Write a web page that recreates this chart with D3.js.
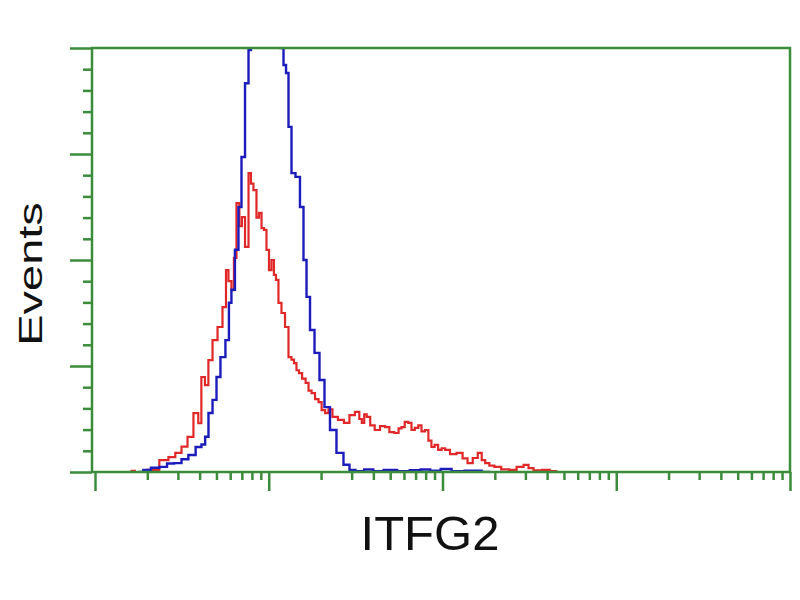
<!DOCTYPE html>
<html>
<head>
<meta charset="utf-8">
<script src="https://cdn.jsdelivr.net/npm/d3@7"></script>
<style>
  body { margin: 0; background: #fff; }
</style>
</head>
<body>
<div id="chart"></div>
<script>
// fluorescence intensity (log scale) and event counts
var blueX = [1.8, 2.0, 2.2, 2.5, 2.7, 3.0, 3.3, 3.6, 4.0, 4.2, 4.41, 4.59, 4.91, 5.1, 5.45, 5.82, 5.98, 6.22, 6.56, 6.83, 7.11, 7.5, 7.8, 8.0, 8.5, 9.5, 10.5, 11.5, 11.92, 12.41, 12.74, 13.25, 13.79, 14.73, 15.53, 16.17, 16.83, 17.74, 18.96, 20.24, 21.64, 23.42, 25.7, 28.2, 30.14, 33, 38, 42, 50, 60, 70, 80, 90, 106, 120, 150, 188];
var blueY = [0, 0.5, 1.0, 1.2, 2.0, 2.1, 3.0, 4.0, 5.9, 6.5, 8.3, 13.9, 17.0, 22.4, 27.1, 31.1, 39.9, 43.0, 52.4, 62.5, 74.3, 91.7, 99.5, 112, 125, 130, 125, 112, 100, 96, 94.1, 81.4, 70.5, 69.6, 62.5, 50.0, 41.3, 33.5, 28.1, 21.7, 15.3, 9.9, 4.5, 1.7, 0.5, 0.2, 0.6, 0.2, 0.5, 0.2, 0.4, 0.6, 0.3, 0.7, 0.2, 0.3, 0];

var redX = [1.6, 1.8, 2.2, 2.5, 2.8, 3.0, 3.3, 3.52, 3.86, 4.0, 4.19, 4.4, 4.59, 4.91, 5.24, 5.6, 5.75, 5.98, 6.22, 6.39, 6.65, 6.9, 7.11, 7.5, 7.8, 8.0, 8.33, 8.67, 8.91, 9.27, 9.51, 9.9, 10.17, 10.57, 10.86, 11.15, 11.6, 12.08, 12.74, 13.25, 13.79, 14.16, 14.73, 15.13, 16.0, 16.6, 17.3, 17.98, 18.96, 19.72, 20.6, 21.64, 22.5, 24.05, 26.0, 28.2, 30.1, 32.63, 33.8, 34.87, 36.0, 37.27, 39.5, 41.98, 45.48, 47.94, 51.0, 54.74, 57.0, 59.24, 62.0, 65.0, 67.6, 71.0, 74.2, 77.2, 81.4, 84.5, 88.2, 92.0, 96.8, 101, 106.1, 115, 126.1, 135, 143.9, 155, 164.4, 172, 180.3, 192, 205.9, 230, 254.6, 280, 306.4, 319, 350, 399.3, 430, 474.3];
var redY = [0.3, 0, 0.5, 2.8, 3.5, 4.5, 6.0, 8.3, 13.9, 11.5, 22.4, 20.5, 26.4, 31.1, 34.2, 38.9, 47.6, 45.0, 42.9, 50.5, 63.4, 58.0, 60.1, 53.1, 70.5, 68.0, 66.5, 60.0, 61.1, 57.5, 57.1, 52.4, 47.6, 50.0, 46.5, 45.3, 39.9, 37.5, 34.2, 27.1, 26.5, 25.7, 24.0, 23.3, 22.0, 21.0, 19.2, 18.6, 17.2, 16.5, 14.6, 13.9, 14.8, 13.0, 12.3, 11.6, 13.4, 14.2, 12.5, 11.6, 13.6, 13.0, 11.0, 9.9, 10.8, 10.6, 9.4, 9.2, 10.3, 10.6, 11.8, 11.6, 9.9, 10.4, 11.0, 9.6, 9.9, 7.4, 5.9, 6.4, 5.2, 5.6, 5.2, 4.2, 4.5, 3.2, 2.1, 3.3, 4.5, 2.8, 2.1, 1.5, 1.2, 0.6, 0.5, 1.2, 1.7, 0.9, 0.4, 0.5, 0.2, 0];

var yMajor = [0, 25, 50, 75, 100];
var yMinor = [5, 10, 15, 20, 30, 35, 40, 45, 55, 60, 65, 70, 80, 85, 90, 95];
var xMajor = [1, 10, 100, 1000, 10000];

var blueData = blueX.map(function (d, i) { return { x: d, y: blueY[i] }; });
var redData = redX.map(function (d, i) { return { x: d, y: redY[i] }; });

var w = 800, h = 600;
var pLeft = 92, pRight = 790, pTop = 48, pBottom = 472;
var green = "#3b8c3b";

var svg = d3.select("#chart").append("svg")
  .attr("width", w)
  .attr("height", h);

var xscale = d3.scaleLog()
  .domain([1, 10000])
  .range([95, pRight]);

var yscale = d3.scaleLinear()
  .domain([0, 100])
  .range([pBottom, pTop]);

var xMinor = [];
xMajor.slice(0, 4).forEach(function (m) {
  for (var k = 2; k <= 9; k++) xMinor.push(m * k);
});

svg.append("defs").append("clipPath").attr("id", "plotclip")
  .append("rect")
  .attr("x", pLeft).attr("y", pTop)
  .attr("width", pRight - pLeft).attr("height", pBottom - pTop);

var line = d3.line()
  .x(function (d) { return xscale(d.x); })
  .y(function (d) { return yscale(d.y); })
  .curve(d3.curveStep);

var plot = svg.append("g").attr("clip-path", "url(#plotclip)");

plot.append("path")
  .datum(redData)
  .attr("fill", "none")
  .attr("stroke", "#e02828")
  .attr("stroke-width", 2.2)
  .attr("d", line);

plot.append("path")
  .datum(blueData)
  .attr("fill", "none")
  .attr("stroke", "#1c1cbc")
  .attr("stroke-width", 2.4)
  .attr("d", line);

// axes
function styleAxis(g) {
  g.selectAll("path").remove();
  g.selectAll("line").attr("stroke", green).attr("stroke-width", 2.5);
  g.selectAll("text").remove();
}

svg.append("g")
  .attr("transform", "translate(0," + pBottom + ")")
  .call(d3.axisBottom(xscale).tickValues(xMinor).tickSize(8).tickFormat(""))
  .call(styleAxis);

svg.append("g")
  .attr("transform", "translate(0," + pBottom + ")")
  .call(d3.axisBottom(xscale).tickValues(xMajor).tickSize(19).tickFormat(""))
  .call(styleAxis);

svg.append("g")
  .attr("transform", "translate(" + pLeft + ",0)")
  .call(d3.axisLeft(yscale).tickValues(yMinor).tickSize(9).tickFormat(""))
  .call(styleAxis);

svg.append("g")
  .attr("transform", "translate(" + pLeft + ",0)")
  .call(d3.axisLeft(yscale).tickValues(yMajor).tickSize(22).tickFormat(""))
  .call(styleAxis);

// frame
svg.append("rect")
  .attr("x", pLeft).attr("y", pTop)
  .attr("width", pRight - pLeft).attr("height", pBottom - pTop)
  .attr("fill", "none")
  .attr("stroke", green)
  .attr("stroke-width", 2.5);

svg.append("text")
  .attr("transform", "translate(42,274) rotate(-90) scale(1,0.72)")
  .attr("text-anchor", "middle")
  .attr("font-family", "Liberation Sans, Arial, sans-serif")
  .attr("font-size", 47)
  .attr("fill", "#111")
  .text("Events");

svg.append("text")
  .attr("x", 430)
  .attr("y", 550)
  .attr("text-anchor", "middle")
  .attr("font-family", "Liberation Sans, Arial, sans-serif")
  .attr("font-size", 49)
  .attr("fill", "#111")
  .text("ITFG2");
</script>
</body>
</html>
